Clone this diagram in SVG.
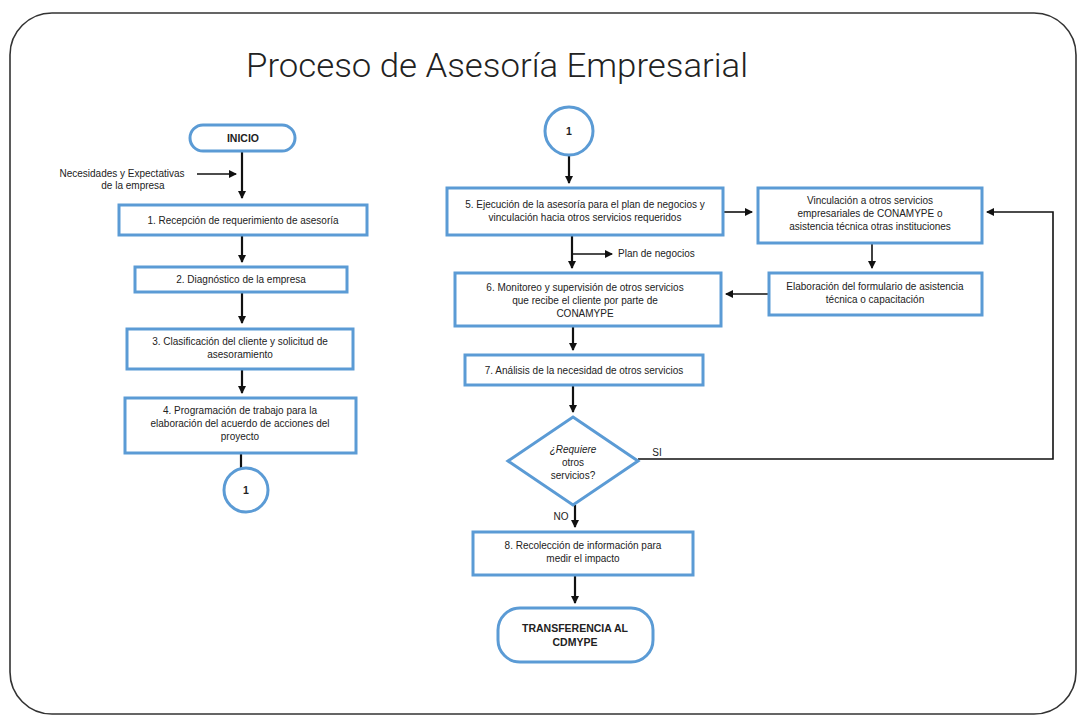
<svg xmlns="http://www.w3.org/2000/svg" width="1081" height="717" viewBox="0 0 1081 717">
<defs>
<style>
.frame{fill:#fff;stroke:#333;stroke-width:1.6}
.box{fill:#fff;stroke:#5b9bd5;stroke-width:3}
.term{fill:#fff;stroke:#5b9bd5;stroke-width:3}
.t{font-family:"Liberation Sans",Arial,sans-serif;font-size:10px;fill:#222;text-anchor:middle}
.tb{font-family:"Liberation Sans",Arial,sans-serif;font-size:10.5px;font-weight:bold;fill:#222;text-anchor:middle}
.ln{fill:none;stroke:#111;stroke-width:2.2}
.ln2{fill:none;stroke:#111;stroke-width:1.6}
.title{font-family:Roboto,"Liberation Sans",sans-serif;font-weight:300;font-size:34px;fill:#222}
</style>
<marker id="ah" markerWidth="8" markerHeight="8" refX="7" refY="4" orient="auto" markerUnits="userSpaceOnUse">
<path d="M0,0 L8,4 L0,8 Z" fill="#111"/>
</marker>
</defs>
<rect x="0" y="0" width="1081" height="717" fill="#fff"/>
<rect class="frame" x="10" y="13" width="1066" height="701" rx="42" ry="42"/>
<text class="title" x="246" y="77" textLength="502" lengthAdjust="spacingAndGlyphs">Proceso de Asesoría Empresarial</text>

<g id="connectors">
<path class="ln" d="M242,151 V198" marker-end="url(#ah)"/>
<path class="ln2" d="M197,174 H236" marker-end="url(#ah)"/>
<path class="ln" d="M242,236 V262" marker-end="url(#ah)"/>
<path class="ln" d="M242,292 V323" marker-end="url(#ah)"/>
<path class="ln" d="M242,369 V393" marker-end="url(#ah)"/>
<path class="ln" d="M241,454 V468"/>
<path class="ln" d="M569,155 V183" marker-end="url(#ah)"/>
<path class="ln2" d="M724,212 H752" marker-end="url(#ah)"/>
<path class="ln" d="M572,236 V268" marker-end="url(#ah)"/>
<path class="ln2" d="M572,254 H612" marker-end="url(#ah)"/>
<path class="ln2" d="M872,244 V268" marker-end="url(#ah)"/>
<path class="ln2" d="M768,294 H726" marker-end="url(#ah)"/>
<path class="ln" d="M573,327 V350" marker-end="url(#ah)"/>
<path class="ln" d="M573,386 V412" marker-end="url(#ah)"/>
<path class="ln2" d="M638,459 H1053 V212 H987" marker-end="url(#ah)"/>
<path class="ln" d="M575,505 V527" marker-end="url(#ah)"/>
<path class="ln" d="M575,576 V603" marker-end="url(#ah)"/>
</g>

<g id="inicio">
<rect class="term" x="190" y="125" width="105" height="26" rx="13"/>
<text class="tb" x="243" y="142">INICIO</text>
</g>
<g id="input-label">
<text class="t" x="122" y="177" font-size="9px">Necesidades y Expectativas</text>
<text class="t" x="133" y="189" font-size="9px">de la empresa</text>
</g>
<g id="n1">
<rect class="box" x="119" y="205" width="248" height="30"/>
<text class="t" x="243" y="224">1. Recepción de requerimiento de asesoría</text>
</g>
<g id="n2">
<rect class="box" x="135" y="267" width="212" height="25"/>
<text class="t" x="241" y="283">2. Diagnóstico de la empresa</text>
</g>
<g id="n3">
<rect class="box" x="127" y="329" width="226" height="40"/>
<text class="t" x="240" y="345">3. Clasificación del cliente y solicitud de</text>
<text class="t" x="240" y="358">asesoramiento</text>
</g>
<g id="n4">
<rect class="box" x="125" y="398" width="231" height="55"/>
<text class="t" x="240" y="414">4. Programación de trabajo para la</text>
<text class="t" x="240" y="427">elaboración del acuerdo de acciones del</text>
<text class="t" x="240" y="440">proyecto</text>
</g>
<g id="c1a">
<circle class="term" cx="246" cy="490" r="22"/>
<text class="tb" x="246" y="494" font-size="12px">1</text>
</g>
<g id="c1b">
<circle class="term" cx="569" cy="131" r="24"/>
<text class="tb" x="569" y="135" font-size="12px">1</text>
</g>
<g id="n5">
<rect class="box" x="447" y="188" width="276" height="47"/>
<text class="t" x="585" y="208">5. Ejecución de la asesoría para el plan de negocios y</text>
<text class="t" x="585" y="221">vinculación hacia otros servicios requeridos</text>
</g>
<g id="plan-label">
<text class="t" x="618" y="257" style="text-anchor:start" font-size="9px">Plan de negocios</text>
</g>
<g id="vinc">
<rect class="box" x="758" y="188" width="224" height="55"/>
<text class="t" x="870" y="204">Vinculación a otros servicios</text>
<text class="t" x="870" y="217">empresariales de CONAMYPE o</text>
<text class="t" x="870" y="230">asistencia técnica otras instituciones</text>
</g>
<g id="elab">
<rect class="box" x="769" y="273" width="213" height="42"/>
<text class="t" x="875" y="290">Elaboración del formulario de asistencia</text>
<text class="t" x="875" y="303">técnica o capacitación</text>
</g>
<g id="n6">
<rect class="box" x="455" y="273" width="266" height="53"/>
<text class="t" x="585" y="291">6. Monitoreo y supervisión de otros servicios</text>
<text class="t" x="585" y="304">que recibe el cliente por parte de</text>
<text class="t" x="585" y="317">CONAMYPE</text>
</g>
<g id="n7">
<rect class="box" x="465" y="355" width="238" height="30"/>
<text class="t" x="584" y="374">7. Análisis de la necesidad de otros servicios</text>
</g>
<g id="dec">
<polygon class="box" points="573,417 638,461 573,505 508,461"/>
<text class="t" x="573" y="453" font-style="italic">¿Requiere</text>
<text class="t" x="573" y="466">otros</text>
<text class="t" x="573" y="479">servicios?</text>
</g>
<g id="labels">
<text class="t" x="657" y="456" font-size="9px">SI</text>
<text class="t" x="561" y="520" font-size="9px">NO</text>
</g>
<g id="n8">
<rect class="box" x="473" y="532" width="220" height="43"/>
<text class="t" x="583" y="549">8. Recolección de información para</text>
<text class="t" x="583" y="562">medir el impacto</text>
</g>
<g id="fin">
<rect class="term" x="498" y="608" width="155" height="54" rx="22"/>
<text class="tb" x="575" y="632">TRANSFERENCIA AL</text>
<text class="tb" x="575" y="646">CDMYPE</text>
</g>
</svg>
